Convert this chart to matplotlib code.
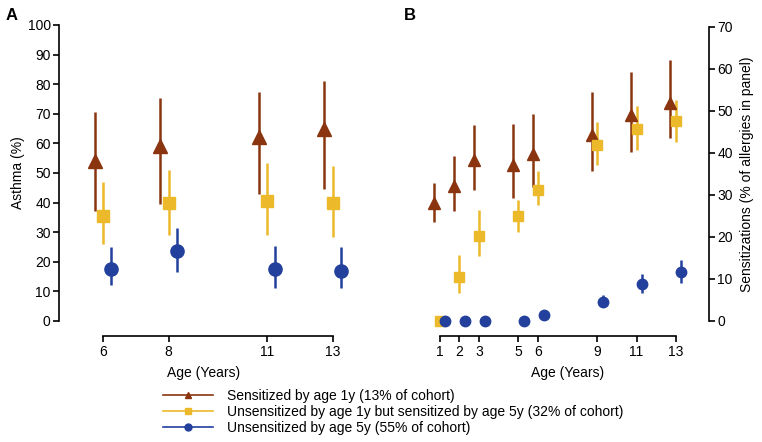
import matplotlib
matplotlib.use("Agg")
import matplotlib.pyplot as plt
from matplotlib.lines import Line2D
import numpy as np

plt.rcParams['font.family'] = ['Liberation Sans', 'DejaVu Sans']

brown = '#8a3510'
yellow = '#ecb92a'
blue = '#22409c'

# Panel A: asthma (%) by age
ages_a = [6, 8, 11, 13]
sens1_a = [54, 59, 62, 65]
sens1_a_lo = [37, 39.5, 43, 44.5]
sens1_a_hi = [70.5, 75.5, 77.5, 81]
sens5_a = [35.5, 40, 40.5, 40]
sens5_a_lo = [26, 29, 29, 28.5]
sens5_a_hi = [47, 51, 53.5, 52.5]
unsens_a = [17.5, 23.5, 17.5, 17]
unsens_a_lo = [12, 16.5, 11, 11]
unsens_a_hi = [25, 31.5, 25.5, 25]

# Panel B: sensitizations (% of allergies in panel) by age
ages_b = [1, 2, 3, 5, 6, 9, 11, 13]
sens1_b = [28.1, 32.1, 38.3, 37.1, 39.7, 44.2, 49, 52]
sens1_b_lo = [23.5, 26.2, 31.2, 29.4, 31.8, 35.8, 40.2, 43.5]
sens1_b_hi = [32.8, 39.2, 46.7, 47, 49.4, 54.5, 59.4, 62.2]
sens5_b = [0, 10.5, 20.2, 25, 31.3, 41.9, 45.7, 47.6]
sens5_b_lo = [0, 6.7, 15.4, 21.3, 27.6, 37.1, 40.8, 42.6]
sens5_b_hi = [0, 15.7, 26.5, 28.9, 35.7, 47.3, 51.3, 52.7]
unsens_b = [0, 0, 0, 0, 1.4, 4.5, 8.7, 11.6]
unsens_b_lo = [0, 0, 0, 0, 0.5, 3.4, 6.6, 9.1]
unsens_b_hi = [0, 0, 0, 0, 2.4, 6.3, 11.2, 14.6]

labels = ["Sensitized by age 1y (13% of cohort)",
          "Unsensitized by age 1y but sensitized by age 5y (32% of cohort)",
          "Unsensitized by age 5y (55% of cohort)"]

fig = plt.figure(figsize=(7.62, 4.42), dpi=100)
ax1 = fig.add_axes([59/762, 121/442, 290/762, 296/442])
ax2 = fig.add_axes([426/762, 121/442, 283/762, 294/442])


def draw(ax, ages, series, off):
    for (y, lo, hi, col, mk, ms), dx in zip(series, [-off, 0, off]):
        x = np.array(ages) + dx
        y = np.array(y)
        err = [y - np.array(lo), np.array(hi) - y]
        ax.errorbar(x, y, yerr=err, fmt=mk, color=col, ms=ms, elinewidth=1.8,
                    capsize=0, mec=col, clip_on=False, zorder=3)


draw(ax1, ages_a, [(sens1_a, sens1_a_lo, sens1_a_hi, brown, '^', 10.5),
                   (sens5_a, sens5_a_lo, sens5_a_hi, yellow, 's', 8),
                   (unsens_a, unsens_a_lo, unsens_a_hi, blue, 'o', 9.5)], 0.25)
draw(ax2, ages_b, [(sens1_b, sens1_b_lo, sens1_b_hi, brown, '^', 8.5),
                   (sens5_b, sens5_b_lo, sens5_b_hi, yellow, 's', 6.5),
                   (unsens_b, unsens_b_lo, unsens_b_hi, blue, 'o', 7.5)], 0.28)

ax1.set_xlim(4.66, 13.5)
ax1.set_ylim(0, 100)
ax1.set_yticks(range(0, 101, 10))
ax1.set_xticks(ages_a)
ax1.spines[['top', 'right']].set_visible(False)
ax1.spines['bottom'].set_position(('outward', 11))
ax1.spines['bottom'].set_bounds(6, 13)
ax1.set_ylabel("Asthma (%)", fontsize=10, labelpad=2)
ax1.set_xlabel("Age (Years)", fontsize=10, labelpad=5)

ax2.set_xlim(0.3, 14.68)
ax2.set_ylim(0, 70)
ax2.set_yticks(range(0, 71, 10))
ax2.set_xticks(ages_b)
ax2.spines[['top', 'left']].set_visible(False)
ax2.spines['bottom'].set_position(('outward', 11))
ax2.spines['bottom'].set_bounds(1, 13)
ax2.yaxis.tick_right()
ax2.yaxis.set_label_position('right')
ax2.set_ylabel("Sensitizations (% of allergies in panel)", fontsize=10, labelpad=5)
ax2.set_xlabel("Age (Years)", fontsize=10, labelpad=5)

for ax in (ax1, ax2):
    for s in ax.spines.values():
        s.set_linewidth(1.2)
    ax.tick_params(width=1.2, length=4, labelsize=10, pad=2)

fig.text(6/762, 1 - 15/442, "A", fontsize=12, fontweight='bold', va='center')
fig.text(404/762, 1 - 15/442, "B", fontsize=12, fontweight='bold', va='center')

handles = [Line2D([], [], color=brown, marker='^', ms=5, lw=1.2),
           Line2D([], [], color=yellow, marker='s', ms=4.5, lw=1.2),
           Line2D([], [], color=blue, marker='o', ms=5, lw=1.2)]
fig.legend(handles, labels, loc='upper left', bbox_to_anchor=(163/762, 1 - 389/442),
           frameon=False, fontsize=10, handlelength=3.6, handletextpad=1.0,
           labelspacing=0.15, borderpad=0, borderaxespad=0)

fig.savefig("out.png", dpi=100)
